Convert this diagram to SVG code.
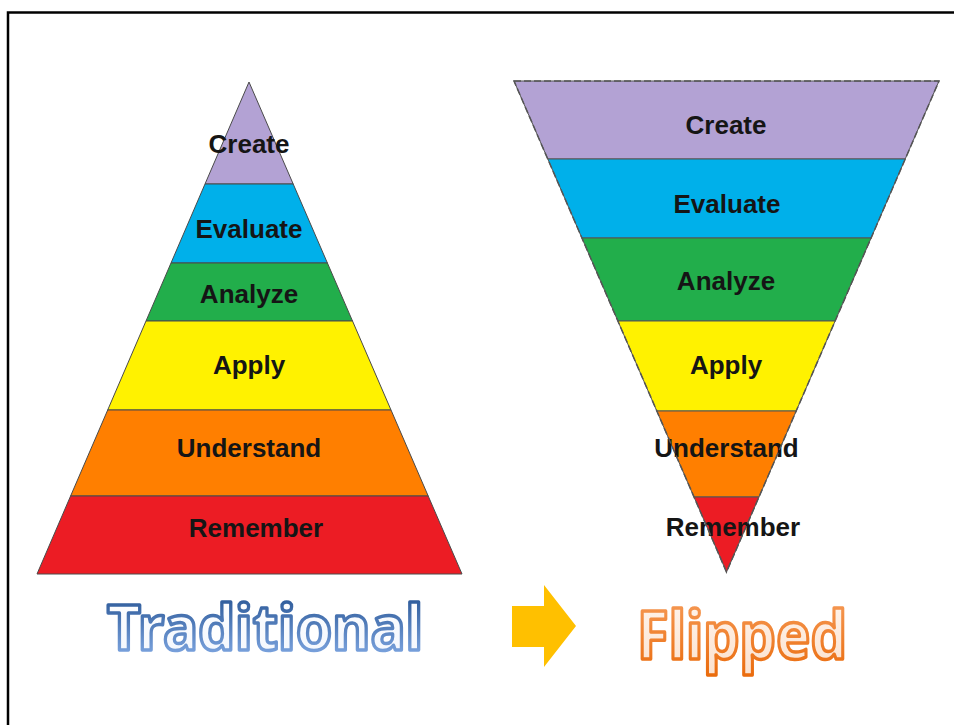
<svg xmlns="http://www.w3.org/2000/svg" width="954" height="725" viewBox="0 0 954 725">
<defs>
<linearGradient id="gBlue" x1="0" y1="0" x2="0" y2="1">
<stop offset="0" stop-color="#1c4a8a"/>
<stop offset="1" stop-color="#8db4ee"/>
</linearGradient>
<linearGradient id="gBlueFill" x1="0" y1="0" x2="0" y2="1">
<stop offset="0" stop-color="#ffffff"/>
<stop offset="1" stop-color="#f2f6fd"/>
</linearGradient>
<linearGradient id="gOrange" x1="0" y1="0" x2="0" y2="1">
<stop offset="0" stop-color="#f7a060"/>
<stop offset="1" stop-color="#ea6a0a"/>
</linearGradient>
<linearGradient id="gOrangeFill" x1="0" y1="0" x2="0" y2="1">
<stop offset="0" stop-color="#fff7f1"/>
<stop offset="1" stop-color="#fbe0cc"/>
</linearGradient>
</defs>
<style>
.lbl{font-family:"Liberation Sans",Arial,sans-serif;font-weight:bold;font-size:26px;fill:#151515;text-anchor:middle}
.band{stroke:#4a4a4a;stroke-width:1}
.fband{stroke:#555;stroke-width:1}
.c1{fill:#b3a2d4}.c2{fill:#00b0ea}.c3{fill:#22ae4b}.c4{fill:#fff200}.c5{fill:#ff7f00}.c6{fill:#ec1c24}
.big{font-family:"Noto Sans","Open Sans",sans-serif;font-weight:bold;font-size:62px;stroke-width:3.5;stroke-linejoin:round}
</style>
<rect width="954" height="725" fill="#ffffff"/>
<path d="M8,725 V12.5 H954" fill="none" stroke="#000" stroke-width="2.5"/>

<g id="traditional">
<g id="t-create"><polygon class="band c1" points="249,82 293.2,184 205,184"/><text class="lbl" x="249" y="153">Create</text></g>
<g id="t-evaluate"><polygon class="band c2" points="205,184 293.2,184 327.4,263 171,263"/><text class="lbl" x="249" y="238">Evaluate</text></g>
<g id="t-analyze"><polygon class="band c3" points="171,263 327.4,263 352.5,321 146,321"/><text class="lbl" x="249" y="303">Analyze</text></g>
<g id="t-apply"><polygon class="band c4" points="146,321 352.5,321 391,410 107.7,410"/><text class="lbl" x="249" y="374">Apply</text></g>
<g id="t-understand"><polygon class="band c5" points="107.7,410 391,410 428.2,496 70.6,496"/><text class="lbl" x="249" y="457">Understand</text></g>
<g id="t-remember"><polygon class="band c6" points="70.6,496 428.2,496 462,574 37,574"/><text class="lbl" x="256" y="537">Remember</text></g>
</g>

<g id="flipped">
<g id="f-create"><polygon class="fband c1" points="514,81 939,81 905.2,159 547.8,159"/><text class="lbl" x="726" y="134">Create</text></g>
<g id="f-evaluate"><polygon class="fband c2" points="547.8,159 905.2,159 871.1,238 581.9,238"/><text class="lbl" x="727" y="213">Evaluate</text></g>
<g id="f-analyze"><polygon class="fband c3" points="581.9,238 871.1,238 835.1,321 617.9,321"/><text class="lbl" x="726" y="290">Analyze</text></g>
<g id="f-apply"><polygon class="fband c4" points="617.9,321 835.1,321 796.2,411 656.8,411"/><text class="lbl" x="726" y="374">Apply</text></g>
<g id="f-understand"><polygon class="fband c5" points="656.8,411 796.2,411 759,497 694,497"/><text class="lbl" x="726.5" y="457">Understand</text></g>
<g id="f-remember"><polygon class="fband c6" points="694,497 759,497 726.5,572"/><text class="lbl" x="733" y="536">Remember</text></g>
<polygon points="514,81 939,81 726.5,572" fill="none" stroke="#555" stroke-width="1.5" stroke-dasharray="7,3"/>
</g>

<g id="connectors">
<polygon id="arrow" points="512,606 544,606 544,585 576,626 544,667 544,647 512,647" fill="#ffc000"/>
</g>

<g id="captions">
<text class="big" x="107" y="650" textLength="316" lengthAdjust="spacingAndGlyphs" fill="url(#gBlueFill)" stroke="url(#gBlue)">Traditional</text>
<text class="big" x="637" y="659" textLength="210" lengthAdjust="spacingAndGlyphs" fill="url(#gOrangeFill)" stroke="url(#gOrange)" style="font-size:66px">Flipped</text>
</g>
</svg>
